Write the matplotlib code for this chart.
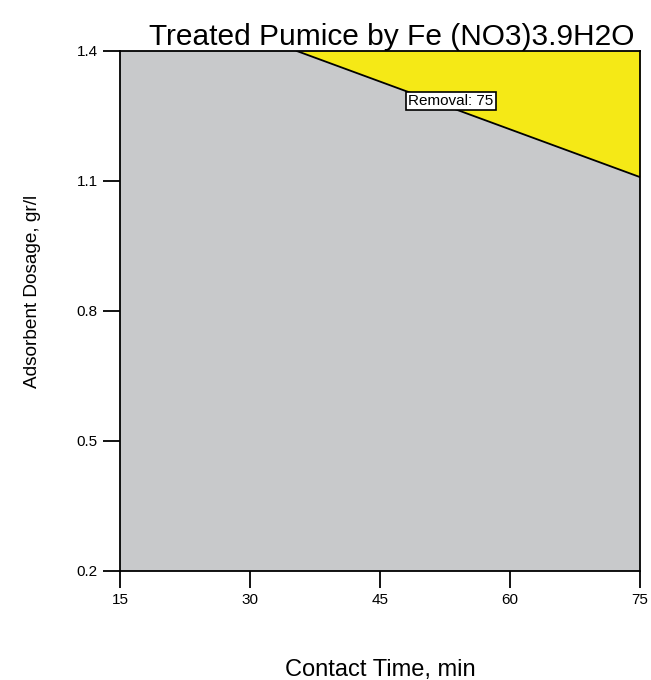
import matplotlib
matplotlib.use('Agg')
import matplotlib.pyplot as plt

plt.rcParams['font.family'] = ['Liberation Sans', 'DejaVu Sans']

# contour line of Removal = 75
line_time = [35.4, 75.0]
line_dose = [1.4, 1.109]
contour_label = 'Removal: 75'
label_pos = (53.2, 1.285)

x_ticks = [15, 30, 45, 60, 75]
y_ticks = [0.2, 0.5, 0.8, 1.1, 1.4]

fig = plt.figure(figsize=(6.51, 6.8), dpi=100)
ax = fig.add_axes([120/651, 109/680, 520/651, 520/680])
ax.set_xlim(15, 75)
ax.set_ylim(0.2, 1.4)
ax.set_facecolor('#c8c9cb')

ax.fill_between(line_time, line_dose, 1.4, color='#f5e916', lw=0)
ax.plot(line_time, line_dose, color='black', lw=1.3)

ax.text(label_pos[0], label_pos[1], contour_label, fontsize=11, ha='center', va='center',
        bbox=dict(boxstyle='square,pad=0.15', fc='white', ec='black', lw=1.2))

ax.set_xticks(x_ticks)
ax.set_yticks(y_ticks)
ax.set_yticklabels(['%.1f' % v for v in y_ticks])
ax.tick_params(direction='out', length=12, width=1.3, labelsize=11, pad=4)
for s in ax.spines.values():
    s.set_linewidth(1.3)

ax.set_title('Treated Pumice by Fe (NO3)3.9H2O', fontsize=21.5, pad=2, x=0.523)
ax.set_xlabel('Contact Time, min', fontsize=17, labelpad=37)
ax.set_ylabel('Adsorbent Dosage, gr/l', fontsize=13.7, labelpad=26)
ax.yaxis.label.set_y(0.538)

fig.savefig('out.png', dpi=100)
